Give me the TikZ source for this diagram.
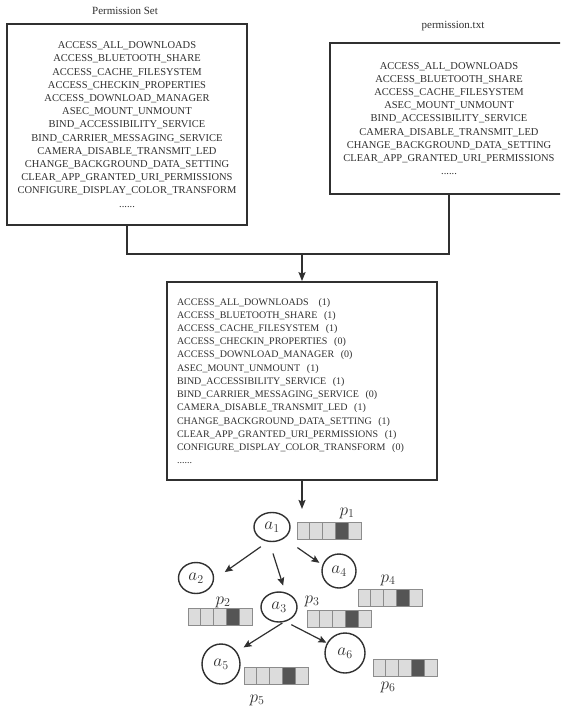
\documentclass[tikz,border=0pt]{standalone}
\usepackage{fontspec}
\setmainfont{Liberation Serif}
\usetikzlibrary{arrows.meta,shapes.geometric}
\definecolor{ink}{HTML}{303030}
\definecolor{cellL}{HTML}{DCDCDC}
\definecolor{cellB}{HTML}{8C8C8C}
\definecolor{cellD}{HTML}{555555}
\tikzset{
  box/.style={draw=ink, line width=1.7pt, text=ink, inner sep=0pt,
    font=\fontsize{10.5}{13.2}\selectfont},
  title/.style={text=ink, inner sep=0pt, font=\fontsize{11}{13}\selectfont},
  conn/.style={draw=ink, line width=1.6pt},
  tip/.style={-{Stealth[length=9pt,width=7pt,inset=1.5pt]}},
  arr/.style={draw=ink, line width=1.2pt, -{Stealth[length=8pt,width=7pt,inset=1.5pt]}},
  tnode/.style={ellipse, draw=ink, line width=1.4pt, inner sep=0pt, text=ink,
    font=\fontsize{18}{20}\selectfont},
  plabel/.style={text=ink, inner sep=0pt, font=\fontsize{18}{20}\selectfont},
  cl/.style={draw=cellB, line width=0.9pt, fill=cellL},
  cd/.style={draw=cellB, line width=0.9pt, fill=cellD},
  pbar/.pic={
    \foreach \i/\c in {0/cl,1/cl,2/cl,3/cd,4/cl}
      {\path[\c] (\i*12.8,0) rectangle ++(12.8,17);}
  }
}
\begin{document}
\begin{tikzpicture}[x=1pt,y=-1pt]
\useasboundingbox (0,0) rectangle (560,708);
\clip (0,0) rectangle (560,708);
\fill[white] (0,0) rectangle (560,708);

% titles
\node[title] (tL) at (125,11) {Permission Set};
\node[title] (tR) at (453,26) {permission.txt};

% left box
\node[box, align=center, minimum width=240pt, minimum height=201pt] (L) at (127,124.5)
{ACCESS\_ALL\_DOWNLOADS\\
ACCESS\_BLUETOOTH\_SHARE\\
ACCESS\_CACHE\_FILESYSTEM\\
ACCESS\_CHECKIN\_PROPERTIES\\
ACCESS\_DOWNLOAD\_MANAGER\\
ASEC\_MOUNT\_UNMOUNT\\
BIND\_ACCESSIBILITY\_SERVICE\\
BIND\_CARRIER\_MESSAGING\_SERVICE\\
CAMERA\_DISABLE\_TRANSMIT\_LED\\
CHANGE\_BACKGROUND\_DATA\_SETTING\\
CLEAR\_APP\_GRANTED\_URI\_PERMISSIONS\\
CONFIGURE\_DISPLAY\_COLOR\_TRANSFORM\\
......};

% right box (its right side runs off the picture)
\node[box, align=center, minimum width=238pt, minimum height=151pt] (R) at (449,118.5)
{ACCESS\_ALL\_DOWNLOADS\\
ACCESS\_BLUETOOTH\_SHARE\\
ACCESS\_CACHE\_FILESYSTEM\\
ASEC\_MOUNT\_UNMOUNT\\
BIND\_ACCESSIBILITY\_SERVICE\\
CAMERA\_DISABLE\_TRANSMIT\_LED\\
CHANGE\_BACKGROUND\_DATA\_SETTING\\
CLEAR\_APP\_GRANTED\_URI\_PERMISSIONS\\
......};

% middle box
\node[box, font=\fontsize{10}{13.2}\selectfont, align=left, text width=250pt, inner xsep=10pt, minimum width=270pt, minimum height=198pt] (M) at (302,381)
{ACCESS\_ALL\_DOWNLOADS~~~(1)\\
ACCESS\_BLUETOOTH\_SHARE~~(1)\\
ACCESS\_CACHE\_FILESYSTEM~~(1)\\
ACCESS\_CHECKIN\_PROPERTIES~~(0)\\
ACCESS\_DOWNLOAD\_MANAGER~~(0)\\
ASEC\_MOUNT\_UNMOUNT~~(1)\\
BIND\_ACCESSIBILITY\_SERVICE~~(1)\\
BIND\_CARRIER\_MESSAGING\_SERVICE~~(0)\\
CAMERA\_DISABLE\_TRANSMIT\_LED~~(1)\\
CHANGE\_BACKGROUND\_DATA\_SETTING~~(1)\\
CLEAR\_APP\_GRANTED\_URI\_PERMISSIONS~~(1)\\
CONFIGURE\_DISPLAY\_COLOR\_TRANSFORM~~(0)\\
......};

% connectors
\coordinate (J) at (302,254);
\draw[conn] (L.south) |- (J) -| (R.south);
\draw[conn, tip] (J) -- (M.north);
\coordinate (T) at (302,509);
\draw[conn, tip] (M.south) -- (T);

% tree nodes
\node[tnode, minimum width=36pt, minimum height=29pt] (a1) at (272,527) {$a_1$};
\node[tnode, minimum width=35pt, minimum height=31pt] (a2) at (196,578) {$a_2$};
\node[tnode, minimum width=36pt, minimum height=30pt] (a3) at (279,607) {$a_3$};
\node[tnode, minimum width=34pt, minimum height=34pt] (a4) at (339,571) {$a_4$};
\node[tnode, minimum width=38pt, minimum height=40pt] (a5) at (221,664) {$a_5$};
\node[tnode, minimum width=40pt, minimum height=40pt] (a6) at (345,653) {$a_6$};

% tree edges
\draw[arr, shorten <=8.5pt, shorten >=13pt] (a1.254) -- (a2.355);
\draw[arr, shorten <=12pt, shorten >=7pt] (a1.260) -- (a3.67);
\draw[arr, shorten <=16pt, shorten >=3.7pt] (a1.317) -- (a4.160);
\draw[arr, shorten <=1.5pt, shorten >=8pt] (a3.287) -- (a5.38);
\draw[arr, shorten <=6.5pt, shorten >=0.6pt] (a3.294) -- (a6.151);

% permission bars
\pic at (297,522) {pbar};
\pic at (188,608) {pbar};
\pic at (307,610) {pbar};
\pic at (358,589) {pbar};
\pic at (244,667) {pbar};
\pic at (373,659) {pbar};

% bar labels
\node[plabel] (p1) at (347,513) {$p_1$};
\node[plabel] (p2) at (223,602) {$p_2$};
\node[plabel] (p3) at (312,601) {$p_3$};
\node[plabel] (p4) at (388,580) {$p_4$};
\node[plabel] (p5) at (257,700) {$p_5$};
\node[plabel] (p6) at (388,687) {$p_6$};
\end{tikzpicture}
\end{document}
